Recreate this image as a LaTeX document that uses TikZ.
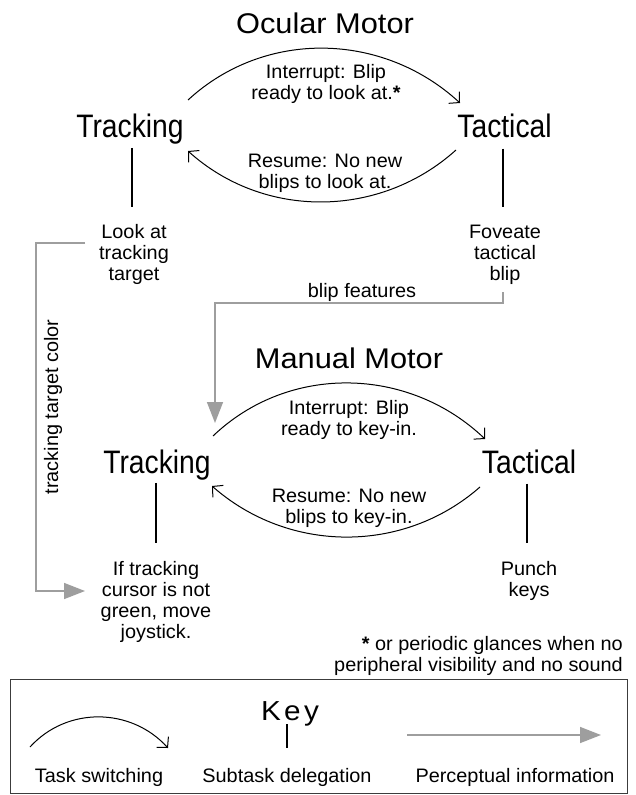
\documentclass[tikz,border=0pt]{standalone}
\usepackage{fontspec}
\setmainfont[FakeStretch=1.02]{Liberation Sans}
\newfontfamily\bigf[FakeStretch=0.87]{Liberation Sans}
\newfontfamily\titlef[FakeStretch=1.08]{Liberation Sans}
\newfontfamily\keyf[FakeStretch=1.08,LetterSpace=12]{Liberation Sans}
\usetikzlibrary{arrows.meta}
\definecolor{percgray}{RGB}{158,158,158}
\definecolor{boxgray}{RGB}{60,60,60}
\begin{document}
\begin{tikzpicture}[x=1pt,y=1pt,
  txt/.style={font=\fontsize{19.5}{21}\selectfont, inner sep=0pt, align=center},
  bigtxt/.style={font=\bigf\fontsize{32.5}{36}\selectfont, inner sep=0pt},
  ttltxt/.style={font=\titlef\fontsize{28.5}{32}\selectfont, inner sep=0pt},
  keytxt/.style={font=\keyf\fontsize{27.5}{30}\selectfont, inner sep=0pt},
  switch/.style={draw=black, line width=1pt, -{Straight Barb[length=7.5pt,width=16pt]}},
  sub/.style={draw=black, line width=1.1pt},
  perc/.style={draw=percgray, line width=1.5pt, -{Triangle[length=21pt,width=16pt,fill=percgray]}}]
\useasboundingbox (0,0) rectangle (635,-795);

% ---- Ocular motor
\node[ttltxt, anchor=base] (ocular) at (325,-33) {Ocular Motor};
\node[bigtxt, anchor=base] (trU) at (130,-137) {Tracking};
\node[bigtxt, anchor=base] (taU) at (504.5,-137) {Tactical};
\node[txt, anchor=base] (intU) at (326,-99) {Interrupt: Blip\\ready to look at.\textbf{*}};
\node[txt, anchor=base] (resU) at (325,-188) {Resume: No new\\blips to look at.};
\node[txt, anchor=base] (look) at (134,-280) {Look at\\tracking\\target};
\node[txt, anchor=base] (fov) at (505,-280) {Foveate\\tactical\\blip};
\node[txt, anchor=base] (bf) at (362,-297) {blip features};
\node[txt, anchor=base, rotate=90] (ttc) at (58,-407) {tracking target color};

% ---- Manual motor
\node[ttltxt, anchor=base] (manual) at (349,-368) {Manual Motor};
\node[bigtxt, anchor=base] (trL) at (157,-473) {Tracking};
\node[bigtxt, anchor=base] (taL) at (529,-473) {Tactical};
\node[txt, anchor=base] (intL) at (349,-435) {Interrupt: Blip\\ready to key-in.};
\node[txt, anchor=base] (resL) at (349,-523) {Resume: No new\\blips to key-in.};
\node[txt, anchor=base] (ifn) at (156,-638) {If tracking\\cursor is not\\green, move\\joystick.};
\node[txt, anchor=base] (punch) at (529,-596) {Punch\\keys};
\node[txt, align=right, anchor=base east] (foot) at (623,-671) {\textbf{*} or periodic glances when no\\peripheral visibility and no sound};

% ---- task switching arcs
\coordinate (iU1) at (188,-100); \coordinate (iU2) at (460,-103);
\coordinate (rU1) at (456,-150); \coordinate (rU2) at (188,-151);
\coordinate (iL1) at (213,-436); \coordinate (iL2) at (485,-439);
\coordinate (rL1) at (480,-487); \coordinate (rL2) at (212,-486);
\draw[switch] (iU1) .. controls (265,-29) and (383,-32) .. (iU2);
\draw[switch] (rU1) .. controls (380,-218.5) and (264,-219.5) .. (rU2);
\draw[switch] (iL1) .. controls (289,-363.4) and (409,-366.4) .. (iL2);
\draw[switch] (rL1) .. controls (403.4,-554.3) and (288.6,-553.3) .. (rL2);

% ---- subtask delegation
\draw[sub] ([xshift=2pt,yshift=-4pt]trU.south) -- ([xshift=-2pt,yshift=17pt]look.north);
\draw[sub] ([xshift=-1.5pt,yshift=-11pt]taU.south) -- ([xshift=-2pt,yshift=17pt]fov.north);
\draw[sub] ([xshift=-1pt,yshift=-3pt]trL.south) -- ([yshift=18pt]ifn.north);
\draw[sub] ([xshift=-2pt,yshift=-10pt]taL.south) -- ([xshift=-2pt,yshift=18pt]punch.north);

% ---- perceptual information
\coordinate (lookout) at (85,-243);
\coordinate (ifin) at (85,-591);
\draw[perc] (lookout) -- ++(-49,0) |- (ifin);
\coordinate (fovout) at (503,-292);
\coordinate (trLin) at (215,-423);
\draw[perc] (fovout) -- ++(0,-11) -| (trLin);

% ---- key
\node[draw=boxgray, line width=1.2pt, minimum width=617pt, minimum height=114pt, inner sep=0pt, anchor=north west] (keybox) at (10,-679) {};
\node[keytxt, anchor=base] (key) at (290,-720) {Key};
\node[txt, anchor=base] (ktask) at (99,-782) {Task switching};
\node[txt, anchor=base] (ksub) at (287,-782) {Subtask delegation};
\node[txt, anchor=base] (kperc) at (515,-782) {Perceptual information};
\coordinate (ks1) at (30,-747); \coordinate (ks2) at (168,-748);
\draw[switch] (ks1) .. controls (67,-706.3) and (131,-707.3) .. (ks2);
\draw[sub] ([yshift=20pt]ksub.north) -- ([yshift=44pt]ksub.north);
\coordinate (kp1) at (407,-735); \coordinate (kp2) at (601,-735);
\draw[perc] (kp1) -- (kp2);
\end{tikzpicture}
\end{document}
